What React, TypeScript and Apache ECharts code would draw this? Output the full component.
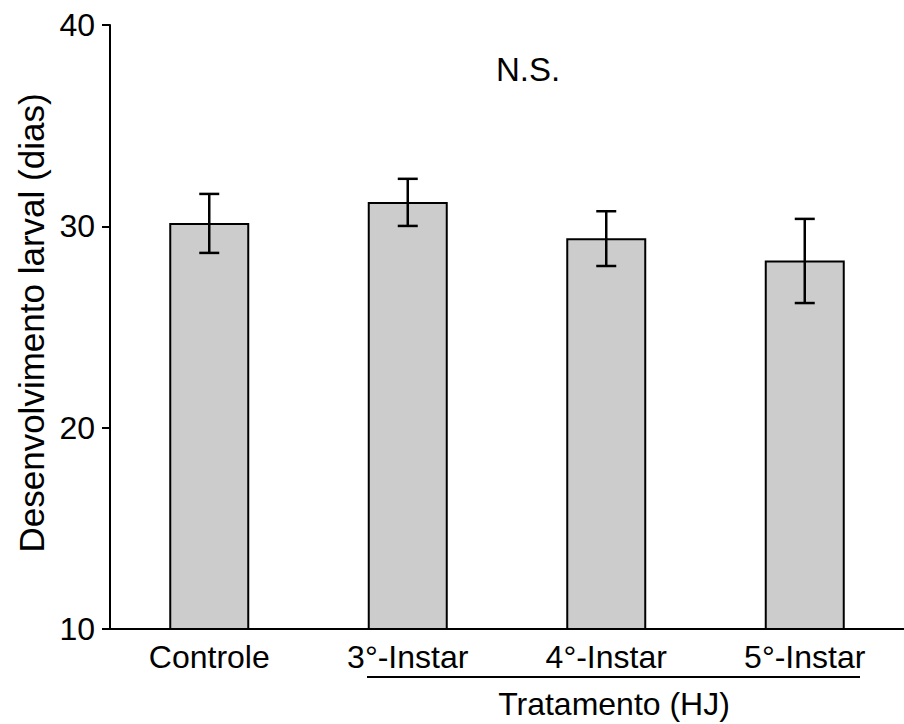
import React, { useEffect, useRef } from "react";
import * as echarts from "echarts";

const categories = ["Controle", "3°-Instar", "4°-Instar", "5°-Instar"];
const means = [30.17, 31.21, 29.41, 28.3];
const lowerErr = [28.68, 30.02, 28.03, 26.19];
const upperErr = [31.61, 32.36, 30.75, 30.37];
const yTicks = { min: 10, max: 40, interval: 10 };

const FONT = '"Liberation Sans", Arial, sans-serif';

export default function App() {
  const ref = useRef<HTMLDivElement>(null);
  useEffect(() => {
    document.body.style.margin = "0";
    const chart = echarts.init(ref.current!, undefined, { renderer: "svg" });
    const errData = categories.map((_, i) => [i, lowerErr[i], upperErr[i]]);
    chart.setOption({
      animation: false,
      backgroundColor: "#ffffff",
      grid: { left: 110, top: 25, bottom: 95, right: -10, containLabel: false },
      xAxis: {
        type: "category",
        data: categories,
        axisLine: { show: true, lineStyle: { color: "#000", width: 2 } },
        axisTick: { show: false },
        axisLabel: {
          color: "#000",
          fontSize: 32,
          fontFamily: FONT,
          margin: 12,
          interval: 0,
        },
      },
      yAxis: {
        type: "value",
        min: yTicks.min,
        max: yTicks.max,
        interval: yTicks.interval,
        splitLine: { show: false },
        axisLine: { show: true, lineStyle: { color: "#000", width: 2 } },
        axisTick: { show: true, length: 8, lineStyle: { color: "#000", width: 2 } },
        axisLabel: { color: "#000", fontSize: 32, fontFamily: FONT, margin: 15 },
      },
      series: [
        {
          type: "bar",
          data: means,
          barWidth: 80,
          itemStyle: { color: "#cccccc", borderColor: "#000", borderWidth: 2 },
          z: 2,
        },
        {
          type: "custom",
          data: errData,
          z: 5,
          renderItem: (params: any, api: any) => {
            const i = api.value(0);
            const lo = api.coord([i, api.value(1)]);
            const hi = api.coord([i, api.value(2)]);
            const hw = 10;
            const style = { stroke: "#000", lineWidth: 2.5 };
            return {
              type: "group",
              children: [
                { type: "line", shape: { x1: hi[0], y1: hi[1], x2: lo[0], y2: lo[1] }, style },
                { type: "line", shape: { x1: hi[0] - hw, y1: hi[1], x2: hi[0] + hw, y2: hi[1] }, style },
                { type: "line", shape: { x1: lo[0] - hw, y1: lo[1], x2: lo[0] + hw, y2: lo[1] }, style },
              ],
            };
          },
        },
      ],
      graphic: [
        {
          type: "text",
          x: 31,
          y: 323,
          rotation: Math.PI / 2,
          style: {
            text: "Desenvolvimento larval (dias)",
            fontSize: 35,
            fontFamily: FONT,
            fill: "#000",
            textAlign: "center",
            textVerticalAlign: "middle",
          },
        },
        {
          type: "text",
          x: 528,
          y: 69,
          style: {
            text: "N.S.",
            fontSize: 33,
            fontFamily: FONT,
            fill: "#000",
            textAlign: "center",
            textVerticalAlign: "middle",
          },
        },
        {
          type: "line",
          shape: { x1: 367, y1: 677, x2: 860, y2: 677 },
          style: { stroke: "#000", lineWidth: 2 },
        },
        {
          type: "text",
          x: 614,
          y: 704,
          style: {
            text: "Tratamento (HJ)",
            fontSize: 32,
            fontFamily: FONT,
            fill: "#000",
            textAlign: "center",
            textVerticalAlign: "middle",
          },
        },
      ],
    });
    return () => chart.dispose();
  }, []);
  return <div ref={ref} style={{ width: 904, height: 724 }} />;
}
